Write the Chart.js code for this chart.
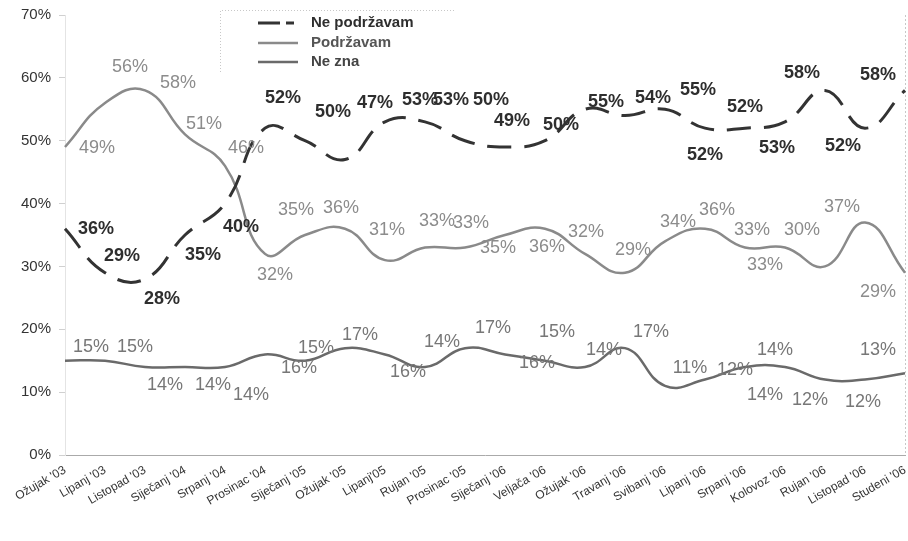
<!DOCTYPE html>
<html><head><meta charset="utf-8">
<script src="https://cdn.jsdelivr.net/npm/chart.js@4/dist/chart.umd.min.js"></script>
<style>html,body{margin:0;padding:0;background:#fff}#wrap{width:908px;height:541px;position:relative}canvas{display:block}</style>
</head><body><div id="wrap"><canvas id="c" width="908" height="541"></canvas></div>
<script>
const categories = ["Ožujak '03","Lipanj '03","Listopad '03","Siječanj '04","Srpanj '04","Prosinac '04","Siječanj '05","Ožujak '05","Lipanj'05","Rujan '05","Prosinac '05","Siječanj '06","Veljača '06","Ožujak '06","Travanj '06","Svibanj '06","Lipanj '06","Srpanj '06","Kolovoz '06","Rujan '06","Listopad '06","Studeni '06"];
const seriesNames = ["Ne podržavam","Podržavam","Ne zna"];
const nePodrzavam = [36,29,28,35,40,52,50,47,53,53,50,49,50,55,54,55,52,52,53,58,52,58];
const podrzavam = [49,56,58,51,46,32,35,36,31,33,33,35,36,32,29,34,36,33,33,30,37,29];
const neZna = [15,15,14,14,14,16,15,17,16,14,17,16,15,14,17,11,12,14,14,12,12,13];
const yTicks = [0,10,20,30,40,50,60,70];

// label nudges (dx, dy in px from point), styling only
const nudgeNP = [[31,0],[17,-17],[17,20],[18,20],[16,23],[18,-30],[28,-29],[30,-57],[35,-22],[26,-22],[26,-41],[7,-26],[16,-16],[21,-7],[28,-18],[33,-19],[0,27],[0,-21],[-8,26],[-23,-17],[-22,18],[-27,-15]];
const nudgeP = [[32,1],[25,-36],[33,-7],[19,-10],[21,-18],[10,21],[-9,-25],[-4,-21],[2,-30],[12,-27],[6,-25],[-7,13],[2,18],[1,-22],[8,-23],[13,-19],[12,-19],[7,-18],[-20,17],[-23,-36],[-23,-15],[-27,19]];
const nudgeNZ = [[26,-14],[30,-14],[20,18],[28,18],[26,28],[34,14],[11,-13],[15,-13],[23,18],[17,-25],[28,-20],[32,9],[12,-29],[19,-17],[26,-16],[25,-18],[30,-10],[30,-17],[-20,28],[-15,20],[-2,22],[-27,-23]];

const FONT = "'Liberation Sans', Arial, sans-serif";
const colNP = '#333333', colP = '#8a8a8a', colNZ = '#6a6a6a';

const labelPlugin = {
  id: 'pctLabels',
  afterDatasetsDraw(chart) {
    const ctx = chart.ctx;
    const cfg = [
      {nudge: nudgeNP, color: '#2e2e2e', weight: 'bold'},
      {nudge: nudgeP, color: '#8c8c8c', weight: 'normal'},
      {nudge: nudgeNZ, color: '#777777', weight: 'normal'}
    ];
    ctx.save();
    ctx.textAlign = 'center';
    ctx.textBaseline = 'middle';
    chart.data.datasets.forEach((ds, di) => {
      const meta = chart.getDatasetMeta(di);
      const c = cfg[di];
      ctx.fillStyle = c.color;
      ctx.font = c.weight + ' 18px ' + FONT;
      meta.data.forEach((pt, i) => {
        const n = c.nudge[i] || [0, -15];
        ctx.fillText(ds.data[i] + '%', pt.x + n[0], pt.y + n[1]);
      });
    });
    ctx.restore();
  }
};

const legendPlugin = {
  id: 'boxLegend',
  afterDraw(chart) {
    const ctx = chart.ctx;
    ctx.save();
    ctx.strokeStyle = '#c8c8c8';
    ctx.lineWidth = 1;
    ctx.setLineDash([1, 2]);
    ctx.beginPath();
    ctx.moveTo(220.5, 72); ctx.lineTo(220.5, 10.5); ctx.lineTo(456, 10.5);
    ctx.stroke();
    const rows = [
      {y: 23, color: colNP, dash: [22, 6, 8, 100], w: 3, tc: '#2e2e2e'},
      {y: 43, color: colP, dash: [], w: 2.5, tc: '#555'},
      {y: 62, color: colNZ, dash: [], w: 2.5, tc: '#444'}
    ];
    rows.forEach((r, i) => {
      ctx.strokeStyle = r.color;
      ctx.lineWidth = r.w;
      ctx.setLineDash(r.dash);
      ctx.beginPath();
      ctx.moveTo(258, r.y); ctx.lineTo(298, r.y);
      ctx.stroke();
      ctx.setLineDash([]);
      ctx.fillStyle = r.tc;
      ctx.font = 'bold 15px ' + FONT;
      ctx.textAlign = 'left';
      ctx.textBaseline = 'middle';
      ctx.fillText(seriesNames[i], 311, r.y);
    });
    ctx.restore();
  }
};

new Chart(document.getElementById('c'), {
  type: 'line',
  data: {
    labels: categories,
    datasets: [
      {label: seriesNames[0], data: nePodrzavam, borderColor: colNP, borderWidth: 3, borderDash: [24, 13], tension: 0.45, pointRadius: 0, fill: false},
      {label: seriesNames[1], data: podrzavam, borderColor: colP, borderWidth: 2.5, tension: 0.45, pointRadius: 0, fill: false},
      {label: seriesNames[2], data: neZna, borderColor: colNZ, borderWidth: 2.5, tension: 0.45, pointRadius: 0, fill: false}
    ]
  },
  options: {
    responsive: false,
    animation: false,
    devicePixelRatio: 1,
    layout: {padding: {top: 15, right: 3, left: 0, bottom: 0}},
    plugins: {legend: {display: false}, tooltip: {enabled: false}},
    scales: {
      x: {
        offset: false,
        afterFit(s) { s.height = 86; s.paddingRight = 0; s.paddingLeft = 0; },
        grid: {
          drawOnChartArea: true,
          drawTicks: false,
          color: (c) => c.index === categories.length - 1 ? '#c8c8c8' : 'rgba(0,0,0,0)'
        },
        border: {color: '#aaaaaa', dash: [2, 2]},
        ticks: {autoSkip: false, maxRotation: 30, minRotation: 30, padding: 8, color: '#333', font: {family: FONT, size: 12}}
      },
      y: {
        min: 0, max: 70,
        afterFit(s) { s.width = 65; s.paddingTop = 0; s.paddingBottom = 0; },
        afterBuildTicks(s) { s.ticks = yTicks.map(v => ({value: v})); },
        grid: {drawOnChartArea: false, drawTicks: true, tickLength: 6, color: '#d0d0d0'},
        border: {color: '#e4e4e4'},
        ticks: {padding: 8, color: '#333', font: {family: FONT, size: 15}, callback: v => v + '%'}
      }
    }
  },
  plugins: [labelPlugin, legendPlugin]
});
</script>
</body></html>
